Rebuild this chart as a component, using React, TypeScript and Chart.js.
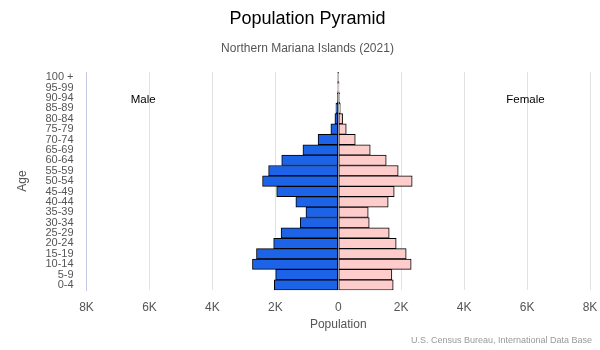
import React, { useEffect, useRef } from "react";
import { Chart, registerables } from "chart.js";

Chart.register(...registerables);

const ageGroups = ["100 +", "95-99", "90-94", "85-89", "80-84", "75-79", "70-74", "65-69", "60-64", "55-59", "50-54", "45-49", "40-44", "35-39", "30-34", "25-29", "20-24", "15-19", "10-14", "5-9", "0-4"];
const male = [5, 12, 30, 75, 107, 235, 642, 1123, 1797, 2214, 2406, 1957, 1348, 1027, 1209, 1818, 2053, 2599, 2727, 1989, 2032];
const female = [8, 25, 45, 63, 138, 254, 540, 1016, 1524, 1905, 2349, 1778, 1587, 952, 984, 1619, 1841, 2159, 2317, 1704, 1746];
const xTicks = [-8000, -6000, -4000, -2000, 0, 2000, 4000, 6000, 8000];

const FONT = "'Liberation Sans', Arial, Helvetica, sans-serif";

const labelPlugin = {
  id: "sideLabels",
  afterDraw(chart: any) {
    const ctx = chart.ctx;
    const xs = chart.scales.x;
    const ys = chart.scales.y;
    ctx.save();
    ctx.font = `11.5px ${FONT}`;
    ctx.fillStyle = "#000";
    ctx.textAlign = "center";
    ctx.textBaseline = "middle";
    const yy = ys.getPixelForValue(2) + 2;
    ctx.fillText("Male", xs.getPixelForValue(-6200), yy);
    ctx.fillText("Female", xs.getPixelForValue(5950), yy);
    ctx.font = `9px ${FONT}`;
    ctx.fillStyle = "#999";
    ctx.textAlign = "right";
    ctx.fillText("U.S. Census Bureau, International Data Base", chart.width - 8, chart.height - 9);
    ctx.restore();
  },
};

export default function App() {
  const ref = useRef<HTMLCanvasElement>(null);
  useEffect(() => {
    const chart = new Chart(ref.current!, {
      type: "bar",
      data: {
        labels: ageGroups,
        datasets: [
          {
            label: "Male",
            data: male.map((v) => -v),
            backgroundColor: "#1c63e8",
            borderColor: "#000",
            borderWidth: 1,
            borderSkipped: false,
            barPercentage: 1,
            categoryPercentage: 1,
          },
          {
            label: "Female",
            data: female,
            backgroundColor: "#ffcccc",
            borderColor: "#000",
            borderWidth: 1,
            borderSkipped: false,
            barPercentage: 1,
            categoryPercentage: 1,
          },
        ],
      },
      options: {
        indexAxis: "y",
        animation: false,
        responsive: false,
        layout: { padding: { left: 15, right: 0, top: 0, bottom: 14 } },
        plugins: {
          legend: { display: false },
          tooltip: { enabled: false },
          title: {
            display: true,
            text: "Population Pyramid",
            font: { family: FONT, size: 18, weight: "normal" },
            color: "#000",
            padding: { top: 8, bottom: 10 },
          },
          subtitle: {
            display: true,
            text: "Northern Mariana Islands (2021)",
            font: { family: FONT, size: 12 },
            color: "#555",
            padding: { top: 2, bottom: 16 },
          },
        },
        scales: {
          x: {
            stacked: true,
            min: -8000,
            max: 8000,
            afterBuildTicks: (axis: any) => {
              axis.ticks = xTicks.map((v) => ({ value: v }));
            },
            afterFit: (axis: any) => {
              axis.paddingRight = 10;
              axis.paddingLeft = 0;
            },
            ticks: {
              callback: (v: any) => (Number(v) === 0 ? "0" : Math.abs(Number(v)) / 1000 + "K"),
              font: { family: FONT, size: 12 },
              color: "#555",
              padding: 10,
              maxRotation: 0,
            },
            grid: { color: "#e2e2e2", drawTicks: false },
            border: { display: false },
            title: {
              display: true,
              text: "Population",
              font: { family: FONT, size: 12 },
              color: "#555",
              padding: { top: -7, bottom: 4 },
            },
          },
          y: {
            stacked: true,
            ticks: {
              font: { family: FONT, size: 11 },
              color: "#555",
              padding: 13,
              autoSkip: false,
            },
            grid: { display: false, drawTicks: false },
            border: { display: true, color: "#c4c8e0" },
            title: {
              display: true,
              text: "Age",
              font: { family: FONT, size: 12 },
              color: "#555",
              padding: { top: 0, bottom: 3 },
            },
          },
        },
      },
      plugins: [labelPlugin],
    } as any);
    return () => chart.destroy();
  }, []);
  return (
    <div style={{ position: "absolute", left: 0, top: 0, width: 600, height: 350 }}>
      <canvas ref={ref} width={600} height={350} />
    </div>
  );
}
